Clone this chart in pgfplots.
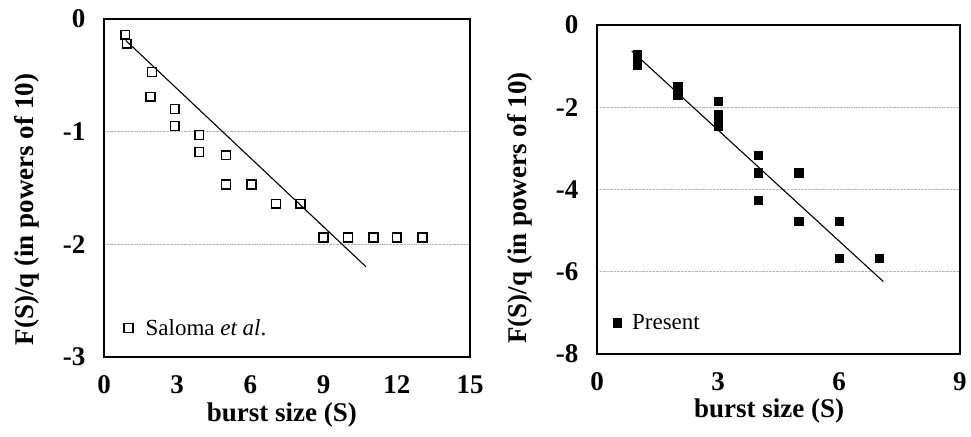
\documentclass[border=0pt]{standalone}
\usepackage{pgfplots}
\pgfplotsset{compat=1.18}
\usepackage{fontspec}
\setmainfont{Liberation Serif}

\pgfplotsset{
  burst/.style={
    scale only axis, axis line style={line width=1.8bp},
    major tick length=0pt,
    ymajorgrids, major grid style={densely dotted, black!30, line width=0.7bp},
    tick label style={font=\fontsize{27bp}{30bp}\selectfont\bfseries},
    label style={font=\fontsize{27bp}{30bp}\selectfont\bfseries},
    yticklabel style={anchor=east, xshift=-15bp},
    xticklabel style={anchor=north, yshift=-15bp},
    legend style={draw=none, fill=none, inner sep=0pt, nodes={inner sep=0pt},
      font=\fontsize{23bp}{26bp}\selectfont, anchor=west},
    legend image code/.code={\path (0bp,0bp) (22bp,0bp); \draw[##1] plot coordinates {(5bp,0bp)};},
  },
}

\begin{document}
\begin{tikzpicture}
% left panel
\begin{axis}[burst, at={(104bp,80bp)}, anchor=south west,
  width=366bp, height=338bp,
  xmin=0, xmax=15, ymin=-3, ymax=0,
  xtick={0,3,...,15}, xticklabels={0,3,6,9,12,15},
  ytick={-3,-2,-1,0}, yticklabels={-3,-2,-1,0},
  xlabel={burst size (S)}, ylabel={F(S)/q (in powers of 10)},
  xlabel style={at={(axis description cs:0.486,-0.172)}, anchor=center},
  ylabel style={at={(axis description cs:-0.21,0.436)}, anchor=center},
  legend style={at={(axis description cs:0.052,0.086)}},
]
\addplot[only marks, mark=square, mark size=4.4bp, mark options={draw=black, fill=white, line width=1.5bp}]
  coordinates {(0.87,-0.14) (0.93,-0.22) (1.97,-0.47) (1.9,-0.69) (2.9,-0.80) (2.9,-0.95)
  (3.9,-1.03) (3.9,-1.18) (5.0,-1.21) (5.0,-1.47) (6.05,-1.47) (7.05,-1.64) (8.05,-1.64)
  (9.0,-1.94) (10.0,-1.94) (11.05,-1.94) (12.0,-1.94) (13.05,-1.94)};
\addlegendentry{Saloma \textit{et al}.}
\addplot[black, line width=1.1bp, forget plot] coordinates {(0.89,-0.19) (10.74,-2.2)};
\end{axis}
% right panel
\begin{axis}[burst, at={(597bp,83bp)}, anchor=south west,
  width=363bp, height=329bp,
  xmin=0, xmax=9, ymin=-8, ymax=0,
  xtick={0,3,6,9}, xticklabels={0,3,6,9},
  ytick={-8,-6,-4,-2,0}, yticklabels={-8,-6,-4,-2,0},
  xlabel={burst size (S)}, ylabel={F(S)/q (in powers of 10)},
  xlabel style={at={(axis description cs:0.474,-0.173)}, anchor=center},
  ylabel style={at={(axis description cs:-0.212,0.444)}, anchor=center},
  legend style={at={(axis description cs:0.040,0.095)}},
  legend image code/.code={\path (0bp,0bp) (20bp,0bp); \draw[#1] plot coordinates {(5bp,0bp)};},
]
\addplot[only marks, mark=square*, mark size=4.1bp, mark options={draw=black, fill=black}]
  coordinates {(1,-0.72) (1,-0.82) (1,-0.92) (1,-0.98) (2,-1.50) (2,-1.70)
  (3,-1.86) (3,-2.17) (3,-2.27) (3,-2.37) (3,-2.45)
  (4,-3.16) (4,-3.59) (4,-4.26) (5,-3.59) (5,-4.78)
  (6,-4.78) (6,-5.68) (7,-5.68)};
\addlegendentry{Present}
\addplot[black, line width=1.1bp, forget plot] coordinates {(0.86,-0.63) (7.1,-6.24)};
\end{axis}
\pgfresetboundingbox
\path[use as bounding box] (0,0) rectangle (971bp,437bp);
\end{tikzpicture}
\end{document}
